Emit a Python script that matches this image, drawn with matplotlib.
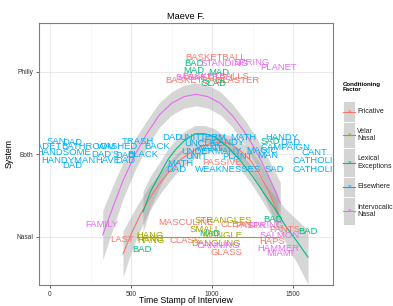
import matplotlib
matplotlib.use("Agg")
import matplotlib.pyplot as plt
from matplotlib.patches import Rectangle

plt.rcParams['font.family'] = ['Liberation Sans', 'DejaVu Sans']

factors = ["Fricative", "Velar Nasal", "Lexical Exceptions", "Elsewhere", "Intervocalic Nasal"]
legend_labels = ["Fricative", "Velar\nNasal", "Lexical\nExceptions", "Elsewhere", "Intervocalic\nNasal"]
colors = ["#F8766D", "#A3A500", "#00BF7D", "#00B0F6", "#E76BF3"]

y_ticks = [1, 2, 3]
y_labels = ["Nasal", "Both", "Philly"]
x_ticks = [0, 500, 1000, 1500]

# words: (label, time stamp, jittered system value, factor index)
words = ["BASKETBALL", "BAD", "STANDING", "SPRING", "PLANET", "MAD", "MAD", "BASKETBALLS",
         "BASKETBALL", "BASKETBALL", "BLASTER", "GLAD",
         "SAN", "DAD", "CADET", "BATHROOM", "WASHED", "TRASH", "BACK", "HANDSOME", "DAD'S",
         "DAD", "BLACK", "HANDYMAN", "HAVE", "DAD", "DAD", "DAD", "UNIT", "TERM", "MATH",
         "HANDY", "UNCLE", "CANDY", "WANT", "DAD", "CAMPAIGN", "UNDER", "MANY", "MAGIC",
         "CANT", "UNIT", "PLANT", "MAN", "CATHOLIC", "MATH", "DAD", "WEAKNESSES", "SAD",
         "CATHOLIC", "SAD", "PASSIVE",
         "FAMILY", "LAST", "HANG", "HANG", "HANG", "BAD", "MASCULINE", "STRANGLES", "CLEAN",
         "PASTA", "SPRING", "BAD", "PANTS", "BAD", "CLASS", "MAD", "MANGLE", "DANGLING",
         "CANNING", "GLASS", "SALMON", "HAPS", "HAMMER", "MIAMI", "SMALL"]
word_x = [1023, 888, 1079, 1245, 1412, 888, 1042, 1023,
          894, 956, 1159, 1011,
          37, 136, -25, 234, 419, 543, 660, 86, 339,
          462, 573, 111, 358, 462, 136, 752, 863, 1005, 1190,
          1430, 925, 1097, 986, 1480, 1449, 912, 1097, 1307,
          1628, 900, 1159, 1344, 1640, 801, 777, 1097, 1381,
          1640, 1356, 1060,
          321, 444, 617, 623, 617, 567, 838, 1067, 1147,
          1233, 1332, 1375, 1449, 1591, 832, 986, 1060, 1023,
          1036, 1085, 1418, 1369, 1406, 1418, 956]
word_y = [3.17, 3.10, 3.10, 3.11, 3.05, 3.02, 2.99, 2.95,
          2.90, 2.93, 2.90, 2.86,
          2.16, 2.14, 2.09, 2.09, 2.09, 2.15, 2.10, 2.02, 2.00,
          1.99, 2.00, 1.93, 1.93, 1.93, 1.86, 2.20, 2.20, 2.21, 2.21,
          2.21, 2.13, 2.14, 2.07, 2.14, 2.08, 2.04, 2.03, 2.05,
          2.02, 1.97, 1.97, 1.98, 1.92, 1.89, 1.81, 1.81, 1.81,
          1.82, 2.16, 1.90,
          1.15, 0.97, 1.02, 0.95, 0.98, 0.84, 1.17, 1.20, 1.15,
          1.13, 1.13, 1.21, 1.09, 1.06, 0.95, 1.04, 1.01, 0.92,
          0.89, 0.81, 1.01, 0.94, 0.86, 0.79, 1.09]
word_f = [0, 2, 4, 4, 4, 2, 2, 0,
          0, 4, 0, 2,
          3, 3, 3, 3, 3, 3, 3, 3, 3,
          3, 3, 3, 3, 3, 3, 3, 3, 3, 3,
          3, 3, 3, 3, 3, 3, 3, 3, 3,
          3, 3, 3, 3, 3, 3, 3, 3, 3,
          3, 2, 0,
          4, 0, 1, 1, 1, 2, 0, 1, 0,
          0, 4, 2, 0, 2, 0, 2, 1, 1,
          4, 0, 4, 0, 4, 4, 1]

# smooth fits
fric_x = [450, 500, 555, 615, 678, 740, 801, 865, 925, 990, 1048, 1110, 1171, 1235, 1295, 1350, 1406]
fric_y = [0.79, 1.03, 1.26, 1.47, 1.65, 1.80, 1.93, 2.02, 2.09, 2.13, 2.15, 2.13, 2.05, 1.93, 1.75, 1.54, 1.29]
fric_se = [0.28, 0.22, 0.18, 0.15, 0.13, 0.12, 0.11, 0.10, 0.10, 0.10, 0.10, 0.10, 0.11, 0.13, 0.15, 0.18, 0.22]

velar_x = [536, 1413]
velar_y = [1.0, 1.0]

lex_x = [573, 620, 678, 725, 771, 830, 894, 955, 1017, 1095, 1171, 1250, 1325, 1390, 1449, 1520, 1591]
lex_y = [1.30, 1.55, 1.76, 1.93, 2.05, 2.17, 2.25, 2.25, 2.21, 2.09, 1.93, 1.73, 1.51, 1.33, 1.14, 0.95, 0.75]
lex_se = [0.25, 0.19, 0.15, 0.13, 0.12, 0.11, 0.10, 0.10, 0.10, 0.10, 0.10, 0.11, 0.13, 0.16, 0.20, 0.26, 0.33]

inter_x = [325, 390, 450, 525, 600, 675, 750, 825, 900, 975, 1050, 1125, 1200, 1250, 1300, 1360, 1420]
inter_y = [1.02, 1.37, 1.68, 2.00, 2.26, 2.48, 2.62, 2.70, 2.73, 2.70, 2.62, 2.47, 2.27, 2.11, 1.93, 1.68, 1.41]
inter_se = [0.30, 0.26, 0.22, 0.19, 0.16, 0.15, 0.14, 0.14, 0.14, 0.14, 0.14, 0.14, 0.15, 0.16, 0.18, 0.21, 0.25]

W, H = 393, 306
fig = plt.figure(figsize=(W / 100, H / 100), dpi=100)
L, R, T, B = 39, 333, 23, 285
ax = fig.add_axes([L / W, 1 - B / H, (R - L) / W, (B - T) / H])

ax.set_xlim(-68, 1745)
ax.set_ylim(0.413, 3.595)

ax.set_xticks(x_ticks)
ax.set_xticks([250, 750, 1250], minor=True)
ax.set_yticks(y_ticks)
ax.set_yticklabels(y_labels)
ax.grid(which='major', color='#E5E5E5', lw=0.6)
ax.grid(which='minor', axis='x', color='#F5F5F5', lw=0.5)
ax.set_axisbelow(True)
for s in ax.spines.values():
    s.set_color('#7F7F7F')
    s.set_linewidth(0.8)
ax.tick_params(which='major', length=2.5, width=0.6, color='#4D4D4D', labelsize=4.8,
               labelcolor='#333333', pad=1.5)
ax.tick_params(which='minor', length=0)

ribbon = '#999999'
for xs, ys, se in [(inter_x, inter_y, inter_se), (fric_x, fric_y, fric_se), (lex_x, lex_y, lex_se)]:
    ax.fill_between(xs, [a - b for a, b in zip(ys, se)], [a + b for a, b in zip(ys, se)],
                    color=ribbon, alpha=0.4, lw=0, zorder=2)
ax.plot(fric_x, fric_y, color=colors[0], lw=0.8, zorder=3)
ax.plot(velar_x, velar_y, color=colors[1], lw=0.8, zorder=3)
ax.plot(lex_x, lex_y, color=colors[2], lw=0.8, zorder=3)
ax.plot(inter_x, inter_y, color=colors[4], lw=0.8, zorder=3)

for w, x, y, f in zip(words, word_x, word_y, word_f):
    ax.text(x, y, w, color=colors[f], fontsize=6.8, ha='center', va='center',
            clip_on=True, zorder=4)

ax.set_title("Maeve F.", fontsize=6.7, pad=3)
ax.set_xlabel("Time Stamp of Interview", fontsize=6.3)
ax.xaxis.set_label_coords(0.5, (B - 296) / (B - T))
ax.set_ylabel("System", fontsize=6.3, labelpad=2)

# legend
fig.text(343 / W, 1 - 82 / H, "Conditioning\nFactor", fontsize=4.4, fontweight='bold',
         va='top', ha='left', linespacing=1.1)
boxes = [(101, 122), (122, 148), (148, 177), (177, 197), (197, 225)]
for i, (y0, y1) in enumerate(boxes):
    fig.patches.append(Rectangle((343 / W, 1 - y1 / H), 12 / W, (y1 - y0) / H,
                                 transform=fig.transFigure, facecolor='#D4D4D4',
                                 edgecolor='white', lw=0.6))
    yc = 1 - (y0 + y1) / 2 / H
    fig.lines.append(plt.Line2D([343 / W, 355 / W], [yc, yc], transform=fig.transFigure,
                                color=colors[i], lw=0.8))
    fig.text(349 / W, yc, "a", color=colors[i], fontsize=4.5, ha='center', va='center')
    fig.text(357 / W, yc, legend_labels[i], fontsize=5, ha='left', va='center',
             linespacing=1.05, color='#222222')

fig.savefig("out.png", dpi=100)
